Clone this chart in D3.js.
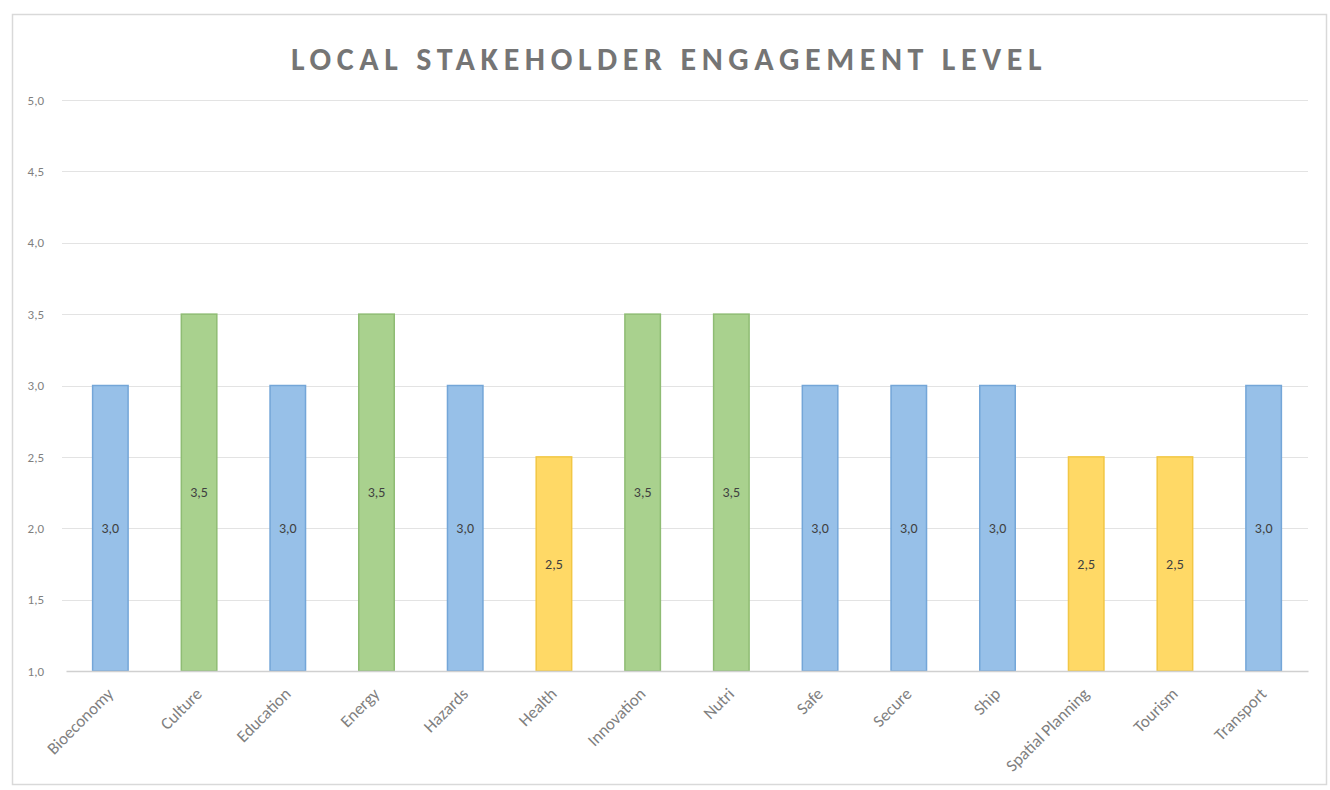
<!DOCTYPE html>
<html>
<head>
<meta charset="utf-8">
<script src="https://cdn.jsdelivr.net/npm/d3@7"></script>
<style>
  body { margin: 0; background: #fff; }
  svg text { font-family: Calibri, Carlito, "Open Sans", sans-serif; }
</style>
</head>
<body>
<div id="chart"></div>
<script>
// Chart data
var categories = ["Bioeconomy", "Culture", "Education", "Energy", "Hazards", "Health", "Innovation",
  "Nutri", "Safe", "Secure", "Ship", "Spatial Planning", "Tourism", "Transport"];
var levels = [3.0, 3.5, 3.0, 3.5, 3.0, 2.5, 3.5, 3.5, 3.0, 3.0, 3.0, 2.5, 2.5, 3.0];
var yTicks = [1.0, 1.5, 2.0, 2.5, 3.0, 3.5, 4.0, 4.5, 5.0];

var width = 1330, height = 790;
var margin = { top: 100, right: 22, bottom: 119, left: 66 };

var svg = d3.select('#chart').append('svg')
  .attr('width', width)
  .attr('height', height);

// chart frame
svg.append('rect')
  .attr('x', 12.5).attr('y', 14.5)
  .attr('width', 1314).attr('height', 770)
  .style('fill', '#fff')
  .style('stroke', '#d9d9d9')
  .style('stroke-width', 1.5);

var x = d3.scaleBand()
  .domain(categories)
  .range([margin.left, width - margin.right])
  .paddingInner(0.6)
  .paddingOuter(0.3);

var y = d3.scaleLinear()
  .domain([1, 5])
  .range([height - margin.bottom, margin.top]);

var fmt = function(d) { return d3.format('.1f')(d).replace('.', ','); };

// colour by level
var fillColor = function(d) { return d >= 3.5 ? '#a9d18e' : (d >= 3 ? '#97c0e8' : '#ffd966'); };
var strokeColor = function(d) { return d >= 3.5 ? '#8fbc74' : (d >= 3 ? '#74a6d8' : '#f2c744'); };

// gridlines
svg.append('g')
  .selectAll('line')
  .data(yTicks.slice(1))
  .enter().append('line')
  .attr('x1', margin.left - 4)
  .attr('x2', width - margin.right)
  .attr('y1', function(d) { return Math.round(y(d)) + 0.5; })
  .attr('y2', function(d) { return Math.round(y(d)) + 0.5; })
  .style('stroke', '#e3e3e3')
  .style('stroke-width', 1.2);

// y axis labels
var yAxis = svg.append('g')
  .attr('transform', 'translate(' + (margin.left - 22) + ',0)')
  .call(d3.axisLeft(y).tickValues(yTicks).tickFormat(fmt).tickSize(0).tickPadding(0));
yAxis.select('.domain').remove();
yAxis.selectAll('text')
  .style('fill', '#7f7f7f')
  .style('font-size', '13px');

// bars
var bars = svg.append('g')
  .selectAll('g')
  .data(levels)
  .enter().append('g');

bars.append('rect')
  .attr('x', function(d, i) { return x(categories[i]); })
  .attr('y', function(d) { return y(d); })
  .attr('width', x.bandwidth())
  .attr('height', function(d) { return y(1) - y(d); })
  .style('fill', fillColor)
  .style('stroke', strokeColor)
  .style('stroke-width', 1.5);

// value labels in the middle of each bar
bars.append('text')
  .attr('x', function(d, i) { return x(categories[i]) + x.bandwidth() / 2; })
  .attr('y', function(d) { return (y(d) + y(1)) / 2; })
  .attr('dy', '.35em')
  .style('text-anchor', 'middle')
  .style('fill', '#404040')
  .style('font-size', '14px')
  .text(fmt);

// x axis
var xAxis = svg.append('g')
  .attr('transform', 'translate(0,' + y(1) + ')')
  .call(d3.axisBottom(x).tickSize(0).tickPadding(0));
xAxis.select('.domain')
  .style('stroke', '#d0d0d0')
  .style('stroke-width', 1.5);
xAxis.selectAll('text')
  .style('fill', '#7f7f7f')
  .style('font-size', '17px')
  .style('text-anchor', 'end')
  .attr('dy', 0)
  .attr('transform', 'translate(4,24) rotate(-45)');

// title
svg.append('text')
  .attr('x', 669)
  .attr('y', 70)
  .style('text-anchor', 'middle')
  .style('fill', '#757575')
  .style('font-size', '32px')
  .style('letter-spacing', '5.6px')
  .style('font-weight', 'bold')
  .text('LOCAL STAKEHOLDER ENGAGEMENT LEVEL');
</script>
</body>
</html>
